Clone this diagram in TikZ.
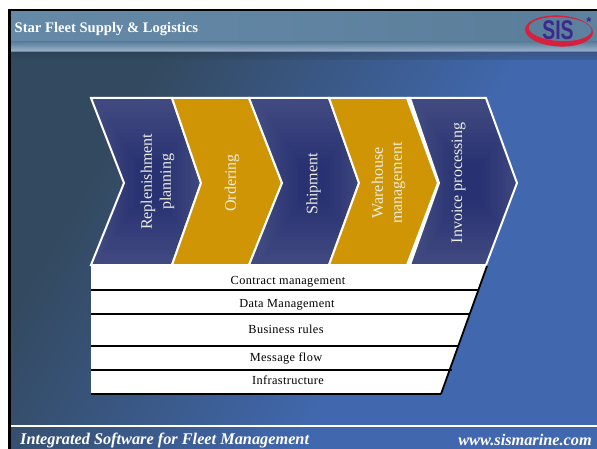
\documentclass[tikz,border=0pt]{standalone}
\usepackage{fontspec}
\setmainfont{Liberation Serif}
\newfontfamily\logofont{Liberation Sans}
\newfontfamily\rowfont[LetterSpace=3]{Liberation Serif}
\usetikzlibrary{shapes.geometric}
\definecolor{bgdark}{HTML}{33495F}
\definecolor{bgblue}{HTML}{4168AE}
\definecolor{goldbox}{HTML}{CF9504}
\definecolor{navyin}{HTML}{283272}
\definecolor{navyout}{HTML}{414A80}
\definecolor{banl}{HTML}{6A8FAE}
\definecolor{banm}{HTML}{5B7F9B}
\definecolor{banr}{HTML}{6C90B2}
\definecolor{banlow}{HTML}{A3B6D0}
\definecolor{txtlight}{HTML}{EDEDE0}
\definecolor{logored}{HTML}{D8203C}
\definecolor{logoblue}{HTML}{3A2A8C}
\pgfdeclarehorizontalshading{bgshade}{100bp}{color(0bp)=(bgdark);color(30bp)=(bgdark);color(60bp)=(bgblue);color(100bp)=(bgblue)}
\pgfdeclarehorizontalshading{banshade}{100bp}{color(0bp)=(banl);color(70bp)=(banm);color(100bp)=(banr)}
\tikzset{
 chevline/.style={draw=white,line width=2pt,line join=miter},
 goldchev/.style={chevline,fill=goldbox},
 chevtext/.style={text=txtlight,font=\fontsize{16}{19}\selectfont,rotate=90,align=center,inner sep=0pt},
 rowtext/.style={text=black,font=\rowfont\fontsize{12.3}{13}\selectfont,inner sep=0pt},
 rowline/.style={draw=black,line width=1.8pt},
 foottext/.style={text=white,font=\fontsize{16.3}{17}\selectfont\bfseries\itshape,inner sep=0pt}
}
\newcommand{\navychev}[5]{%
 \begin{scope}
  \clip (#1,98) -- (#3,98) -- (#4,183) -- (#3,265) -- (#1,265) -- (#2,183) -- cycle;
  \fill[navyout] (#1,98) rectangle (#4,265);
  \foreach \s in {0,0.05,...,0.95}{
   \pgfmathsetmacro{\cc}{min(100,130*\s)}
   \fill[navyin!\cc!navyout]
     ({#5-(#4-#1)/2*(1-\s)},{183-83*(1-\s)}) rectangle ({#5+(#4-#1)/2*(1-\s)},{183+83*(1-\s)});
  }
 \end{scope}
 \draw[chevline] (#1,98) -- (#3,98) -- (#4,183) -- (#3,265) -- (#1,265) -- (#2,183) -- cycle;
}
\begin{document}
\begin{tikzpicture}[x=1pt,y=-1pt]
\useasboundingbox (0,0) rectangle (597,449);
\fill[white] (0,0) rectangle (597,449);
% background
\shade[shading=bgshade,shading angle=-30] (9,10) rectangle (597,449);
% black frame
\fill[black] (8,9) rectangle (597,12);
\fill[black] (8,9) rectangle (11,449);
% banner
\shade[shading=banshade] (11,12) rectangle (597,44);
\shade[top color=banm,bottom color=banlow] (11,42) rectangle (597,52);
\shade[top color=bgdark!70!black,bottom color=bgdark,opacity=0.3] (11,52) rectangle (597,60);
\node[text=white,font=\fontsize{14.6}{15}\selectfont\bfseries,anchor=west,inner sep=0pt] (title) at (14.5,29.5) {Star Fleet Supply \& Logistics};
% logo
\fill[logored,even odd rule,rotate around={-3:(559,31)}] (559,31) ellipse [x radius=34,y radius=15.5] (560,29) ellipse [x radius=31.5,y radius=12];
\node[text=logoblue,font=\logofont\fontsize{27}{27}\selectfont\bfseries,inner sep=0pt,xscale=0.72] (logo) at (558,30) {SIS};
\node[text=logoblue,font=\logofont\fontsize{13}{13}\selectfont\bfseries,inner sep=0pt] (logostar) at (589,22) {*};
% chevrons
\navychev{91}{124}{172}{201}{150}
\draw[goldchev] (172,98) -- (249,98) -- (282,183) -- (249,265) -- (172,265) -- (201,183) -- cycle;
\navychev{249}{282}{329}{359}{313}
\fill[white] (407,97) -- (410,97) -- (439,183) -- (410,266) -- (407,266) -- (438,183) -- cycle;
\draw[goldchev] (329,98) -- (407,98) -- (438,183) -- (407,265) -- (329,265) -- (359,183) -- cycle;
\navychev{410}{439}{486}{517}{470}
\node[chevtext] (c1) at (157.5,182) {Replenishment\\planning};
\node[chevtext] (c2) at (232,183) {Ordering};
\node[chevtext] (c3) at (313.5,184) {Shipment};
\node[chevtext] (c4) at (388.5,183) {Warehouse\\management};
\node[chevtext] (c5) at (458.5,183) {Invoice processing};
% table
\fill[white] (91,266) -- (487,266) -- (441,394) -- (91,394) -- cycle;
\draw[rowline] (91,290) -- (478,290);
\draw[rowline] (91,314) -- (469.5,314);
\draw[rowline] (91,346) -- (458,346);
\draw[rowline] (91,370) -- (452,370);
\draw[rowline] (91,394) -- (441,394);
\draw[rowline] (487,266) -- (441,394);
\node[rowtext] (r1) at (288,282) {Contract management};
\node[rowtext] (r2) at (287,305) {Data Management};
\node[rowtext] (r3) at (286,329.5) {Business rules};
\node[rowtext] (r4) at (286,358.5) {Message flow};
\node[rowtext] (r5) at (288,380) {Infrastructure};
% footer
\fill[white] (11,425) rectangle (597,427);
\node[foottext,anchor=west] (f1) at (20,440) {Integrated Software for Fleet Management};
\node[foottext,anchor=east] (f2) at (592,440) {www.sismarine.com};
\end{tikzpicture}
\end{document}
